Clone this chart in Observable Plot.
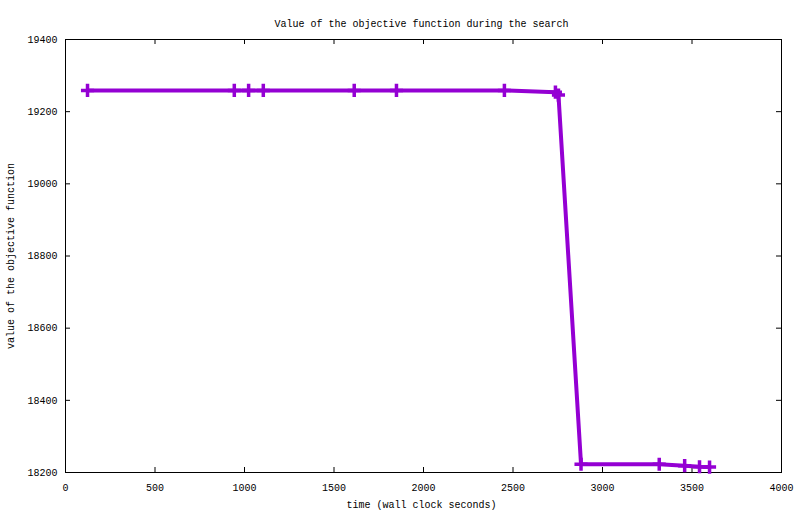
<!DOCTYPE html>
<html>
<head>
<meta charset="utf-8">
<script src="https://cdn.jsdelivr.net/npm/d3@7"></script>
<script src="https://cdn.jsdelivr.net/npm/@observablehq/plot@0.6"></script>
<style>
  html, body { margin: 0; padding: 0; background: #fff; }
</style>
</head>
<body>
<div id="chart"></div>
<script>
// ---- data ----
const times  = [123, 943, 1023, 1105, 1613, 1849, 2452, 2737, 2754, 2880, 3317, 3459, 3542, 3598];
const values = [19259, 19259, 19259, 19259, 19259, 19259, 19259, 19254, 19246, 18223, 18223, 18219, 18216, 18215];
const xTicks = [0, 500, 1000, 1500, 2000, 2500, 3000, 3500, 4000];
const yTicks = [18200, 18400, 18600, 18800, 19000, 19200, 19400];
const titleText = "Value of the objective function during the search";
const xLabel = "time (wall clock seconds)";
const yLabel = "value of the objective function";
const seriesColor = "#9400d3";

const data = times.map((t, i) => ({t, v: values[i]}));

const W = 800, H = 514;
const mL = 65, mR = 19, mT = 39, mB = 42;
const innerW = W - mL - mR, innerH = H - mT - mB;
const tickLen = 5;
const innerX = xTicks.slice(1, -1);
const innerY = yTicks.slice(1, -1);

const chart = Plot.plot({
  width: W,
  height: H,
  marginLeft: mL,
  marginRight: mR,
  marginTop: mT,
  marginBottom: mB,
  style: {fontFamily: "'Liberation Mono', 'DejaVu Sans Mono', monospace", fontSize: "10px", background: "#fff", color: "#000", overflow: "visible"},
  x: {domain: [0, 4000], ticks: xTicks, tickSize: 0, tickPadding: 11, tickFormat: d => String(d), label: null},
  y: {domain: [18200, 19400], ticks: yTicks, tickSize: 0, tickPadding: 8, tickFormat: d => String(d), label: null},
  marks: [
    // inward ticks on all four sides
    Plot.ruleX(innerX, {x: d => d, insetTop: innerH - tickLen, stroke: "#000"}),
    Plot.ruleX(innerX, {x: d => d, insetBottom: innerH - tickLen, stroke: "#000"}),
    Plot.ruleY(innerY, {y: d => d, insetRight: innerW - tickLen, stroke: "#000"}),
    Plot.ruleY(innerY, {y: d => d, insetLeft: innerW - tickLen, stroke: "#000"}),
    Plot.frame({stroke: "#000"}),
    Plot.line(data, {x: "t", y: "v", stroke: seriesColor, strokeWidth: 4, strokeLinejoin: "miter"}),
    Plot.dot(data, {x: "t", y: "v", symbol: "plus", r: 4.3, stroke: seriesColor, strokeWidth: 3.5, strokeLinecap: "butt"}),
    Plot.text([titleText], {text: d => d, frameAnchor: "top", dy: -20, dx: -2, fill: "#000"}),
    Plot.text([xLabel], {text: d => d, frameAnchor: "bottom", dy: 35, dx: -2, fill: "#000"}),
    Plot.text([yLabel], {text: d => d, frameAnchor: "left", textAnchor: "middle", dx: -55, rotate: -90, fill: "#000"})
  ]
});
document.getElementById("chart").appendChild(chart);
</script>
</body>
</html>
